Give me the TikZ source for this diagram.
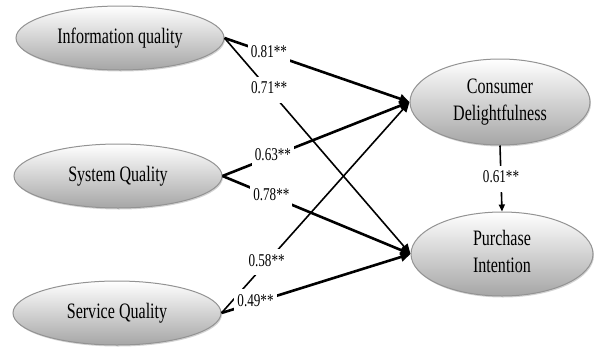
\documentclass[tikz,border=0pt]{standalone}
\usepackage{fontspec}
\usepackage{graphicx}
\setmainfont{Liberation Serif}
\usetikzlibrary{shapes.geometric,shadows,arrows.meta}
\newcommand{\squeeze}[1]{\scalebox{0.73}[1]{\begin{tabular}{@{}c@{}}#1\end{tabular}}}

\begin{document}
\begin{tikzpicture}[x=1pt,y=-1pt,>={Triangle[length=10pt,width=9pt]},
	construct/.style={ellipse, draw=gray!85, line width=1pt, top color=white,
		bottom color=gray!70, drop shadow={shadow xshift=1pt,shadow yshift=-1.5pt,opacity=0.35},
		minimum width=208pt, minimum height=64pt, inner sep=1pt,
		font=\fontsize{22}{27}\selectfont},
	strong/.style={line width=2.6pt},
	weak/.style={line width=1.6pt},
	coef/.style={fill=white, inner sep=3pt, font=\fontsize{18}{20}\selectfont}]
	\useasboundingbox (0,0) rectangle (594,349);
	% constructs
	\node[construct] (iq) at (120,38) {\squeeze{Information quality}};
	\node[construct] (sq) at (118,176) {\squeeze{System Quality}};
	\node[construct] (svq) at (117,313) {\squeeze{Service Quality}};
	\node[construct, minimum width=180pt, minimum height=86pt]
	(cd) at (500,102) {\squeeze{Consumer\\Delightfulness}};
	\node[construct, minimum width=182pt, minimum height=84pt]
	(pi) at (502,254) {\squeeze{Purchase\\Intention}};
	% paths
	\draw[strong,->] (iq.east) -- node[coef,pos=0.24] {\squeeze{0.81**}} (cd.west);
	\draw[weak,->] (iq.east) -- node[coef,pos=0.24] {\squeeze{0.71**}} (pi.west);
	\draw[strong,->] (sq.east) -- node[coef,pos=0.27] {\squeeze{0.63**}} (cd.west);
	\draw[strong,->] (sq.east) -- node[coef,pos=0.26] {\squeeze{0.78**}} (pi.west);
	\draw[weak,->] (svq.east) -- node[coef,pos=0.24] {\squeeze{0.58**}} (cd.west);
	\draw[strong,->] (svq.east) -- node[coef,pos=0.18] {\squeeze{0.49**}} (pi.west);
	\draw[weak,-{Triangle[length=7pt,width=6pt]}] (cd.south) --
	node[coef] {\squeeze{0.61**}} (pi.north);
\end{tikzpicture}
\end{document}
